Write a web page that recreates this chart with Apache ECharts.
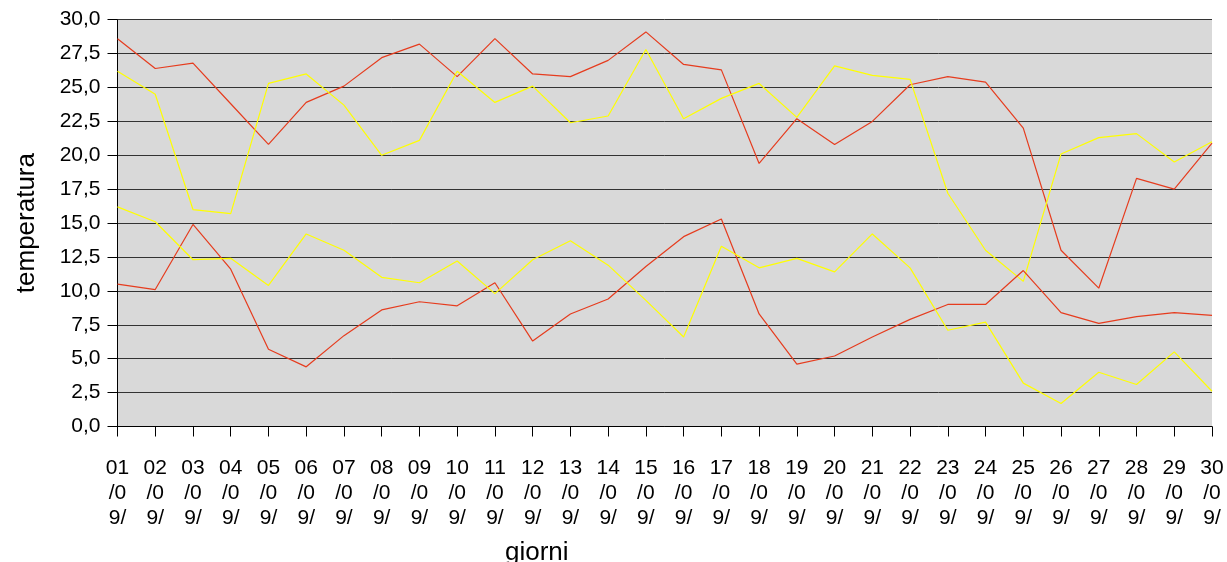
<!DOCTYPE html>
<html>
<head>
<meta charset="utf-8">
<script src="https://cdn.jsdelivr.net/npm/echarts@6/dist/echarts.min.js"></script>
<style>
html,body{margin:0;padding:0;background:#fff;}
#chart{width:1227px;height:562px;}
</style>
</head>
<body>
<div id="chart"></div>
<script>
const categories = ['01/09/','02/09/','03/09/','04/09/','05/09/','06/09/','07/09/','08/09/','09/09/','10/09/',
  '11/09/','12/09/','13/09/','14/09/','15/09/','16/09/','17/09/','18/09/','19/09/','20/09/',
  '21/09/','22/09/','23/09/','24/09/','25/09/','26/09/','27/09/','28/09/','29/09/','30/09/'];

const redHigh = [28.6,26.4,26.8,23.8,20.8,23.9,25.1,27.2,28.2,25.8,
  28.6,26.0,25.8,27.0,29.1,26.7,26.3,19.4,22.7,20.8,
  22.5,25.2,25.8,25.4,22.0,13.0,10.2,18.3,17.5,20.9];

const yellowHigh = [26.2,24.5,16.0,15.7,25.3,26.0,23.7,20.0,21.1,26.2,
  23.9,25.1,22.4,22.9,27.8,22.7,24.2,25.3,22.8,26.6,
  25.9,25.6,17.2,13.0,10.7,20.1,21.3,21.6,19.5,21.0];

const redLow = [10.5,10.1,14.9,11.6,5.7,4.4,6.7,8.6,9.2,8.9,
  10.6,6.3,8.3,9.4,11.8,14.0,15.3,8.3,4.6,5.2,
  6.6,7.9,9.0,9.0,11.5,8.4,7.6,8.1,8.4,8.2];

const yellowLow = [16.2,15.1,12.3,12.4,10.4,14.2,13.0,11.0,10.6,12.2,
  9.8,12.3,13.7,11.9,9.3,6.6,13.3,11.7,12.4,11.4,
  14.2,11.7,7.1,7.7,3.2,1.7,4.0,3.1,5.5,2.6];

const yTicks = {min: 0, max: 30, interval: 2.5};

const RED = '#e63c1e';
const YELLOW = '#ffff00';
const FONT = 'Liberation Sans';

function mk(name, data, color) {
  return {
    name: name, type: 'line', data: data, symbol: 'none',
    lineStyle: {color: color, width: 1.2}, itemStyle: {color: color},
    animation: false
  };
}

const chart = echarts.init(document.getElementById('chart'), null, {renderer: 'canvas'});
chart.setOption({
  animation: false,
  backgroundColor: '#ffffff',
  grid: {left: 117.5, right: 15, top: 19.7, bottom: 135.5, show: true, backgroundColor: '#d9d9d9', borderWidth: 0,
    containLabel: false, outerBoundsMode: 'none'},
  xAxis: {
    type: 'category', data: categories, boundaryGap: false,
    name: 'giorni', nameLocation: 'middle', nameGap: 113,
    nameTextStyle: {fontFamily: FONT, fontSize: 26, color: '#000', padding: [0, 256, 0, 0]},
    axisLine: {show: true, lineStyle: {color: '#000', width: 1}},
    axisTick: {show: true, inside: false, length: 10, alignWithLabel: true, lineStyle: {color: '#000'}},
    axisLabel: {
      interval: 0, margin: 29, color: '#000', fontFamily: FONT, fontSize: 21, lineHeight: 25,
      formatter: function (v) { return v.match(/.{1,2}/g).join('\n'); }
    },
    splitLine: {show: false}
  },
  yAxis: {
    type: 'value', min: yTicks.min, max: yTicks.max, interval: yTicks.interval,
    name: 'temperatura', nameLocation: 'middle', nameGap: 78,
    nameTextStyle: {fontFamily: FONT, fontSize: 26, color: '#000'},
    axisLine: {show: true, lineStyle: {color: '#000', width: 1}},
    axisTick: {show: true, inside: false, length: 10, lineStyle: {color: '#000'}},
    axisLabel: {
      margin: 17, color: '#000', fontFamily: FONT, fontSize: 21,
      formatter: function (v) { return v.toFixed(1).replace('.', ','); }
    },
    splitLine: {show: true, lineStyle: {color: '#333333', width: 1}}
  },
  series: [
    mk('max A', redHigh, RED),
    mk('max B', yellowHigh, YELLOW),
    mk('min A', redLow, RED),
    mk('min B', yellowLow, YELLOW)
  ]
});
</script>
</body>
</html>
